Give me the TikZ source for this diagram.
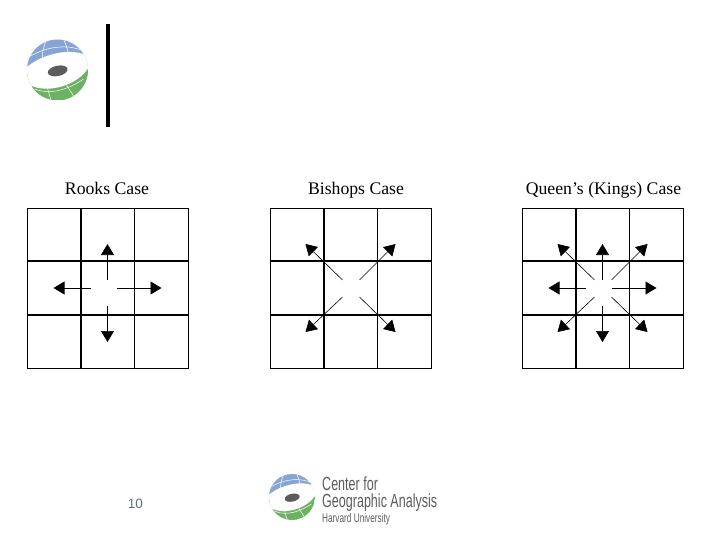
\documentclass[tikz,border=0pt]{standalone}
\usepackage{fontspec}
\setmainfont{Liberation Serif}
\newfontfamily\logofont[FakeStretch=0.66]{Liberation Sans}
\newfontfamily\pagefont{Liberation Sans}
\usetikzlibrary{positioning,calc,arrows.meta}
\definecolor{globeblue}{HTML}{86A4D4}
\definecolor{globegreen}{HTML}{6DB163}
\definecolor{logogray}{HTML}{5C5C5C}
\definecolor{pagegray}{HTML}{5F6F70}

\tikzset{
    pics/globe/.style={code={
        \begin{scope}
            \clip (0,0) circle (1);
            \fill[globeblue] (-1,-1) rectangle (1,0.2);
            \fill[globegreen] (-1,0) rectangle (1,1);
            % meridians and parallels
            \draw[white,line width=0.5pt] (-0.9,-0.45) .. controls (-0.3,-0.8) and (0.4,-0.85) .. (0.9,-0.6);
            \draw[white,line width=0.5pt] (-0.95,-0.1) .. controls (-0.4,-0.45) and (0.4,-0.5) .. (0.95,-0.2);
            \draw[white,line width=0.5pt] (-0.35,-1) .. controls (-0.55,-0.6) and (-0.5,-0.3) .. (-0.45,0);
            \draw[white,line width=0.5pt] (0.2,-1) .. controls (0.35,-0.7) and (0.4,-0.4) .. (0.35,-0.2);
            \draw[white,line width=0.5pt] (-0.75,0.62) .. controls (-0.2,0.85) and (0.4,0.6) .. (0.85,0.3);
            \draw[white,line width=0.5pt] (-0.35,0.5) .. controls (-0.3,0.7) and (-0.25,0.9) .. (-0.2,1);
            \draw[white,line width=0.5pt] (0.3,0.5) .. controls (0.4,0.65) and (0.5,0.8) .. (0.55,0.9);
            % white band
            \fill[white] (-1.05,-0.05) .. controls (-0.6,-0.5) and (0.5,-0.8) .. (1.05,-0.42)
                -- (1.05,-0.14) .. controls (0.7,0.55) and (-0.5,0.85) .. (-1.05,0.4) -- cycle;
        \end{scope}
        \fill[logogray,rotate=12] (0,0.03) ellipse [x radius=0.33,y radius=0.17];
    }},
}

\begin{document}
\begin{tikzpicture}[x=1pt,y=-1pt,
    cell/.style={rectangle,draw,line width=0.9pt,minimum width=53.67pt,minimum height=53.33pt,inner sep=0pt,outer sep=0pt},
    heavy/.style={line width=1.7pt},
    reach/.style={line width=0.6pt,-{Triangle[length=11pt,width=13pt]}},
    title/.style={anchor=base,font=\fontsize{17.7}{20}\selectfont},
    logotext/.style={anchor=west,text=logogray,inner sep=0pt}]

\useasboundingbox (0,0) rectangle (720,540);

% Header
\pic[scale=30.5] (headlogo) at (57.5,70) {globe};
\fill[black] (106,24) rectangle (110,127);

% Grids
\foreach \g/\x/\tx/\lab in {rooks/27/107/{Rooks Case},bishops/270/356/{Bishops Case},queen/522/603.5/{Queen’s (Kings) Case}} {
    \node[title] (\g title) at (\tx,195) {\lab};
    \foreach \r in {0,1,2} {
        \foreach \c in {0,1,2} {
            \node[cell] (\g\r\c) at ({\x+26.83+\c*53.67},{234.67+\r*53.33}) {};
        }
    }
    \draw[heavy] (\g00.north east) -- (\g20.south east);
    \draw[heavy] (\g00.south west) -- (\g02.south east);
    \draw[heavy] (\g20.north west) -- (\g22.north east);
}

% Straight moves
\foreach \g in {rooks,queen} {
    \foreach \d/\sx/\sy/\tx/\ty in {n/0/-8/0/-44,s/0/18/0/54,w/-17/0/-54/0,e/9/0/54/0} {
        \coordinate (\g\d from) at ($(\g11.center)+(\sx,\sy)$);
        \coordinate (\g\d to) at ($(\g11.center)+(\tx,\ty)$);
        \draw[reach] (\g\d from) -- (\g\d to);
    }
}

% Diagonal moves
\foreach \g in {bishops,queen} {
    \foreach \d/\sx/\sy/\tx/\ty in {ne/9/-8/45/-44,nw/-8/-8/-45/-44,sw/-8/9/-45/44,se/9/9/45/44} {
        \coordinate (\g\d from) at ($(\g11.center)+(\sx,\sy)$);
        \coordinate (\g\d to) at ($(\g11.center)+(\tx,\ty)$);
        \draw[reach] (\g\d from) -- (\g\d to);
    }
}

% Footer
\node[text=pagegray,font=\pagefont\fontsize{13.5}{16}\selectfont] (pagenum) at (135.5,504) {10};
\pic[scale=23] (footlogo) at (292,497) {globe};
\node[logotext,font=\logofont\fontsize{19}{22}\selectfont] (centerline) at (322,484) {Center for};
\node[logotext,font=\logofont\fontsize{19}{22}\selectfont] (geoline) at (322,503) {Geographic Analysis};
\node[logotext,font=\logofont\fontsize{12.5}{14}\selectfont] (harvardline) at (322,519) {Harvard University};

\end{tikzpicture}
\end{document}
